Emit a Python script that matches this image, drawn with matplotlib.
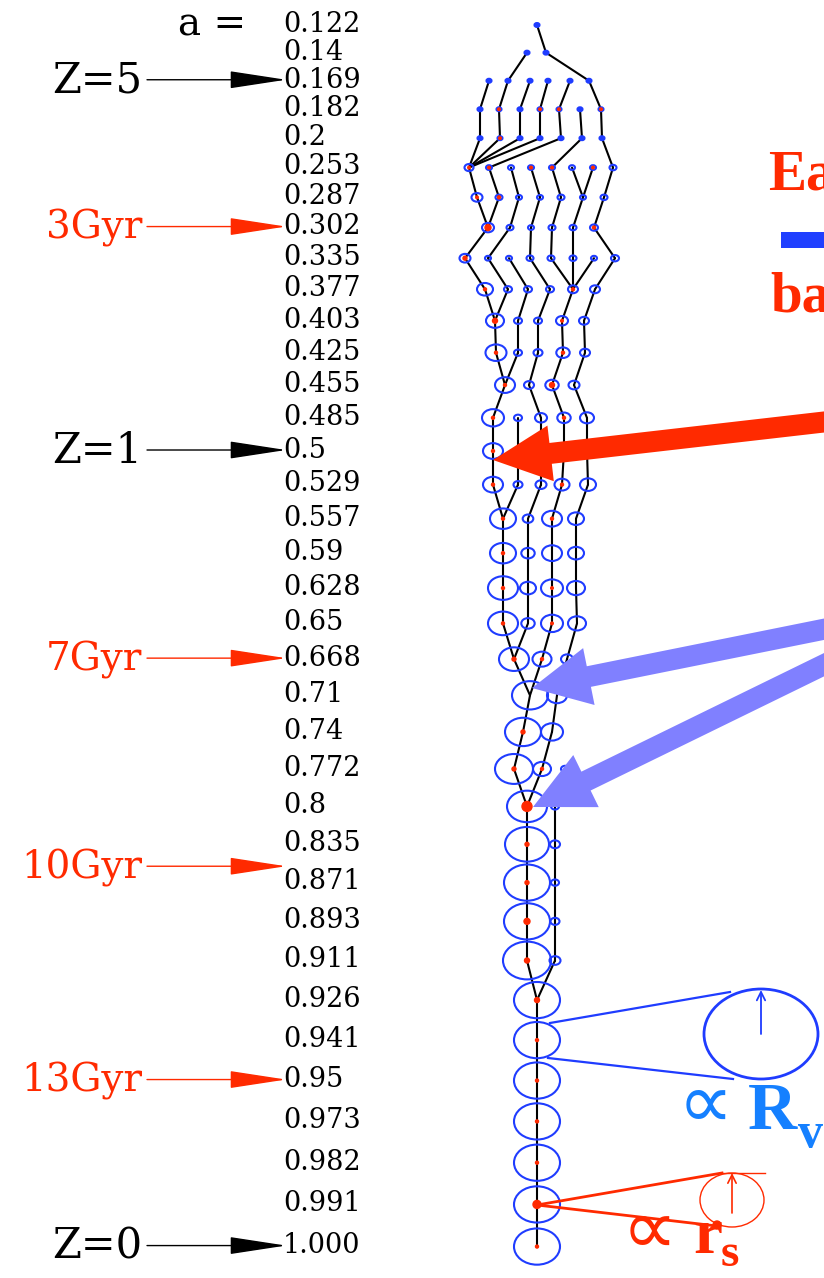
import matplotlib
matplotlib.use('Agg')
import matplotlib.pyplot as plt
from matplotlib.patches import Ellipse, Circle, FancyArrowPatch, Rectangle

# ------------------------------------------------------------------ data
a_labels = ['0.122', '0.14', '0.169', '0.182', '0.2', '0.253', '0.287', '0.302',
            '0.335', '0.377', '0.403', '0.425', '0.455', '0.485', '0.5', '0.529',
            '0.557', '0.59', '0.628', '0.65', '0.668', '0.71', '0.74', '0.772',
            '0.8', '0.835', '0.871', '0.893', '0.911', '0.926', '0.941', '0.95',
            '0.973', '0.982', '0.991', '1.000']

epoch_labels = ['Z=5', '3Gyr', 'Z=1', '7Gyr', '10Gyr', '13Gyr', 'Z=0']
epoch_level = [2, 7, 14, 20, 25.6, 31, 35]          # snapshot index the arrow points at
epoch_kind = ['z', 't', 'z', 't', 't', 't', 'z']     # redshift (black) / age (red)

# merger tree, one list per snapshot (top = earliest)
# halo_rv : halo size (proportional to R_v)
halo_rv = [
    [2.5],
    [2.5, 2.5],
    [2.5, 2.5, 2.5, 2.5, 2.5, 2.5],
    [2.5, 2.5, 2.5, 2.5, 2.5, 2.5, 2.5],
    [2.5, 2.5, 2.5, 2.5, 2.5, 2.5, 2.5],
    [4.5, 3, 3, 3, 3, 3, 3, 3.5],
    [5.5, 3.5, 3, 3, 3.5, 3, 3.5],
    [6, 3.5, 3, 3.5, 3.5, 4],
    [5.5, 3, 3, 3.5, 3.5, 3.5, 3, 4],
    [8, 4, 4, 4, 5, 5],
    [9, 4, 4, 6, 5],
    [10.5, 4, 4.5, 6.7, 5],
    [10, 5, 6.7, 5.5],
    [11, 4, 6, 6.7, 7],
    [10, 4, 6, 6.7, 7],
    [10, 4.5, 5.5, 7.5, 8],
    [13, 5.3, 10, 8],
    [13, 6.7, 10, 8],
    [15, 8, 11, 9],
    [15, 6.7, 11, 9],
    [15, 9.5, 6],
    [18, 10],
    [18, 11],
    [19, 9, 4],
    [20, 4],
    [22, 5],
    [23, 4],
    [23, 4.5],
    [24, 5.5],
    [23], [23], [23], [23], [23], [23], [23],
]
# gal_rs : central galaxy size (proportional to r_s), 0 = not shown
gal_rs = [
    [0],
    [0, 0],
    [0, 0, 0, 0, 0, 0],
    [0, 1.3, 0, 1.3, 1.3, 0, 1.3],
    [0, 1.3, 0, 0, 0, 0, 0],
    [1.3, 1.3, 0, 1.3, 1.3, 0, 1.3, 0],
    [1.3, 1.5, 0, 0, 0, 0, 0],
    [3, 0, 0, 0, 0, 1.5],
    [2, 0, 0, 0, 0, 0, 0, 0],
    [1.5, 0, 0, 0, 1.5, 0],
    [2.5, 0, 0, 1.3, 0],
    [1.5, 0, 0, 1.5, 0],
    [1.5, 0, 2.5, 0],
    [1.5, 0, 0, 1.5, 0],
    [1.5, 0, 0, 0, 0],
    [1.5, 0, 0, 1.5, 0],
    [1.5, 0, 1.5, 0],
    [1.5, 0, 0, 0],
    [1.5, 0, 1.3, 0],
    [1.5, 0, 1.3, 0],
    [2, 1.5, 0],
    [0, 0],
    [2, 0],
    [2, 1.5, 0],
    [5, 0],
    [2, 0],
    [2, 0],
    [3, 0],
    [2.5, 0],
    [2.5], [1.5], [1.5], [1.5], [1.5], [4], [1.5],
]
# descendant : index of the halo in the next snapshot
descendant = [
    [1],
    [1, 5],
    [0, 1, 2, 3, 4, 6],
    [0, 1, 2, 3, 4, 5, 6],
    [0, 0, 0, 0, 1, 4, 7],
    [0, 1, 2, 3, 4, 5, 5, 6],
    [0, 0, 1, 2, 3, 4, 5],
    [0, 1, 3, 4, 5, 7],
    [0, 1, 2, 3, 4, 4, 4, 5],
    [0, 0, 1, 2, 3, 4],
    [0, 1, 2, 3, 4],
    [0, 0, 1, 2, 3],
    [0, 2, 3, 4],
    [0, 1, 2, 3, 4],
    [0, 1, 2, 3, 4],
    [0, 0, 1, 2, 3],
    [0, 1, 2, 3],
    [0, 1, 2, 3],
    [0, 1, 2, 3],
    [0, 0, 1, 2],
    [0, 0, 1],
    [0, 1],
    [0, 1],
    [0, 0, 1],
    [0, 1],
    [0, 1],
    [0, 1],
    [0, 1],
    [0, 0],
    [0], [0], [0], [0], [0], [0], [],
]

# ------------------------------------------------------------------ layout
# horizontal placement of every halo (pixels)
node_x = [
    [537],
    [527, 546],
    [489, 508, 530, 548, 570, 589],
    [480, 499, 520, 540, 559, 580, 601],
    [480, 500, 520, 540, 561, 582, 602],
    [469, 489, 511, 531, 552, 572, 593, 613],
    [477, 499, 519, 540, 561, 583, 604],
    [488, 510, 531, 552, 573, 594],
    [465, 488, 509, 530, 551, 573, 594, 615],
    [485, 508, 528, 550, 573, 595],
    [495, 518, 538, 562, 584],
    [496, 518, 538, 563, 585],
    [505, 529, 552, 574],
    [493, 518, 541, 564, 587],
    [493, 518, 541, 564, 587],
    [493, 518, 541, 562, 588],
    [503, 528, 552, 576],
    [503, 528, 552, 576],
    [503, 528, 552, 576],
    [503, 528, 552, 577],
    [514, 542, 567],
    [530, 557],
    [523, 552],
    [514, 542, 565],
    [527, 555],
    [527, 555],
    [527, 555],
    [527, 555],
    [527, 555],
    [537], [537], [537], [537], [537], [537], [537],
]


def level_y(i):
    return 22 + 27.66 * i + 0.426 * i * (i - 1) / 2


RED = '#ff2a00'
BLUE = '#1f3cff'
AZURE = '#1580ff'
LIGHTBLUE = '#8080ff'
SERIF = 'DejaVu Serif'
TIMES = ['Liberation Serif', 'DejaVu Serif']
SYM = ['DejaVu Sans']

fig = plt.figure(figsize=(8.24, 12.78), dpi=100)
ax = fig.add_axes([0, 0, 1, 1])
ax.set_xlim(0, 824)
ax.set_ylim(1278, 0)
ax.axis('off')

# ------------------------------------------------------------------ tree
TREE_DY = 3
for i, xs in enumerate(node_x):
    y0 = level_y(i) + TREE_DY
    if i + 1 < len(node_x):
        y1 = level_y(i + 1) + TREE_DY
        for j, x in enumerate(xs):
            k = descendant[i][j]
            ax.plot([x, node_x[i + 1][k]], [y0, y1], color='black', lw=1.5,
                    zorder=2, solid_capstyle='round')
    for j, x in enumerate(xs):
        rv = halo_rv[i][j]
        small = rv <= 2.5
        ax.add_patch(Ellipse((x, y0), 2 * rv, 2 * rv / 1.27, fill=small,
                             fc=BLUE, ec=BLUE, lw=1.5, zorder=3))
        rs = gal_rs[i][j]
        if rs > 0:
            ax.add_patch(Circle((x, y0), rs, color=RED, zorder=4))

# ------------------------------------------------------------------ a labels
NUM_FS = 19.5
num_em = NUM_FS * 100 / 72
for i, s in enumerate(a_labels):
    ax.text(283, level_y(i) + 0.364 * num_em, s, fontsize=NUM_FS, family=SERIF,
            ha='left', va='baseline', color='black', zorder=5)
ax.text(178, 35, 'a =', fontsize=28, family=SERIF, ha='left', va='baseline')

# ------------------------------------------------------------------ epoch arrows
for lab, lev, kind in zip(epoch_labels, epoch_level, epoch_kind):
    y = level_y(lev)
    col = 'black' if kind == 'z' else RED
    fs = 30 if kind == 'z' else 28
    em = fs * 100 / 72
    ax.text(142, y + 0.364 * em, lab, fontsize=fs, family=SERIF, color=col,
            ha='right', va='baseline')
    ax.add_patch(FancyArrowPatch((147, y + 2), (286, y + 2),
                                 arrowstyle='-|>,head_length=3.6,head_width=0.55',
                                 mutation_scale=10, lw=1.0, color=col,
                                 shrinkA=0, shrinkB=0, zorder=6))

# ------------------------------------------------------------------ big arrows
ax.arrow(850, 419, -357, 41, width=21, head_width=56, head_length=58,
         length_includes_head=True, color=RED, lw=0, zorder=8)
ax.arrow(850, 624, -318, 64, width=21, head_width=58, head_length=58,
         length_includes_head=True, color=LIGHTBLUE, lw=0, zorder=8)
ax.arrow(850, 652, -317, 155, width=21, head_width=58, head_length=59,
         length_includes_head=True, color=LIGHTBLUE, lw=0, zorder=8)

# ------------------------------------------------------------------ right texts
ax.text(768, 190, 'Ea', fontsize=41, family=TIMES, weight='bold', color=RED,
        ha='left', va='baseline')
ax.text(770, 312, 'ba', fontsize=41, family=TIMES, weight='bold', color=RED,
        ha='left', va='baseline')
ax.add_patch(Rectangle((781, 232), 60, 16, color='#2040ff', lw=0))

# ------------------------------------------------------------------ R_v callout
ax.plot([550, 730], [1023, 992], color=BLUE, lw=1.6, zorder=5)
ax.plot([548, 733], [1058, 1079], color=BLUE, lw=1.6, zorder=5)
ax.add_patch(Ellipse((761, 1034), 114, 90, fill=False, ec=BLUE, lw=2.0, zorder=5))
ax.add_patch(FancyArrowPatch((761, 1034), (761, 990),
                             arrowstyle='->,head_length=0.6,head_width=0.3',
                             mutation_scale=10, lw=1.3, color=BLUE,
                             shrinkA=0, shrinkB=0, zorder=5))
ax.text(705, 1106, '\u221d', fontsize=56, family=SYM, color=AZURE,
        ha='center', va='center')
ax.text(748, 1129, 'R', fontsize=49, family=TIMES, weight='bold', color=AZURE,
        ha='left', va='baseline')
ax.text(798, 1147, 'v', fontsize=36, family=TIMES, weight='bold', color=AZURE,
        ha='left', va='baseline')

# ------------------------------------------------------------------ r_s callout
ax.plot([537, 722], [1205, 1173], color=RED, lw=2.0, zorder=6)
ax.plot([537, 717], [1205, 1226], color=RED, lw=2.0, zorder=6)
ax.add_patch(Ellipse((732, 1200), 64, 54, fill=False, ec=RED, lw=1.0, zorder=5))
ax.plot([720, 765], [1173, 1173], color=RED, lw=1.0, zorder=5)
ax.add_patch(FancyArrowPatch((732, 1213), (732, 1173),
                             arrowstyle='->,head_length=0.6,head_width=0.3',
                             mutation_scale=10, lw=1.2, color=RED,
                             shrinkA=0, shrinkB=0, zorder=5))
ax.add_patch(Circle((717, 1225), 4, color=RED, zorder=7))
ax.text(649, 1232, '\u221d', fontsize=56, family=SYM, color=RED,
        ha='center', va='center')
ax.text(693, 1253, 'r', fontsize=47, family=TIMES, weight='bold', color=RED,
        ha='left', va='baseline')
ax.text(721, 1266, 's', fontsize=34, family=TIMES, weight='bold', color=RED,
        ha='left', va='baseline')

fig.savefig('out.png', dpi=100)
